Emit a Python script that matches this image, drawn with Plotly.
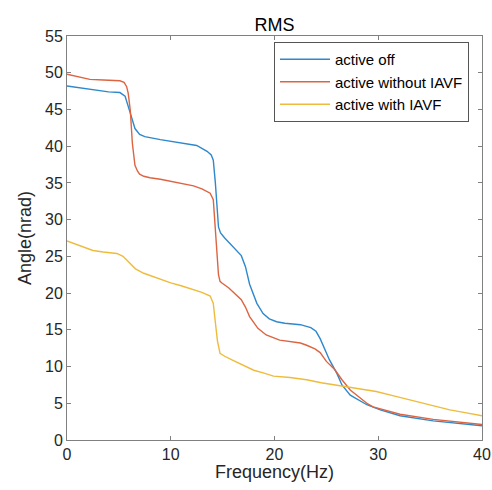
import plotly.graph_objects as go

# ---- data ----
freq_off = [0, 1, 2.5, 4, 5.1, 5.6, 6.1, 6.55, 7.0, 7.5, 9.0, 10, 11.5, 12.5, 13.5, 13.9,
            14.1, 14.3, 14.6, 14.8, 15.2, 15.6, 16.0, 16.8, 17.2, 17.6, 18.3, 18.9, 19.5,
            20.2, 21, 22.5, 23.5, 24.0, 24.4, 25.0, 25.3, 26.0, 26.5, 27.3, 28.9, 30.2,
            32.1, 35.3, 40]
rms_off = [48.2, 48.0, 47.6, 47.4, 47.3, 46.8, 44.5, 42.4, 41.6, 41.3, 40.9, 40.7, 40.4,
           40.1, 39.3, 38.8, 38.1, 35.0, 29.0, 28.2, 27.5, 26.9, 26.3, 25.1, 23.6, 21.2,
           18.6, 17.2, 16.5, 16.1, 15.9, 15.7, 15.3, 14.8, 13.8, 11.8, 10.9, 9.1, 7.5,
           6.1, 4.8, 4.1, 3.3, 2.6, 1.95]

freq_without = [0, 1, 2.2, 3.5, 5.1, 5.5, 5.75, 5.9, 6.1, 6.3, 6.55, 6.8, 7.0, 7.4, 8.0,
                9.0, 10, 11, 12.2, 13.0, 13.8, 14.1, 14.4, 14.6, 14.75, 14.9, 15.6, 16.0,
                16.8, 17.2, 17.6, 18.4, 19.2, 20.5, 21.5, 22.5, 23.1, 23.9, 24.4, 25.0,
                25.8, 26.5, 27.3, 28.9, 29.5, 32.1, 35.3, 40]
rms_without = [49.8, 49.5, 49.1, 49.0, 48.9, 48.7, 48.1, 47.2, 44.9, 40.4, 37.4, 36.6,
               36.2, 35.9, 35.7, 35.5, 35.2, 35.0, 34.6, 34.2, 33.6, 32.7, 25.9, 22.5,
               21.6, 21.4, 20.7, 20.2, 19.1, 18.1, 16.8, 15.2, 14.3, 13.6, 13.4, 13.2,
               12.9, 12.4, 11.9, 10.7, 9.6, 8.2, 6.8, 5.0, 4.5, 3.5, 2.8, 2.1]

freq_with = [0, 1, 2.5, 3.5, 4.8, 5.4, 6.0, 6.6, 7.4, 8.0, 9.0, 10, 11, 12.2, 13.0, 13.8,
             14.1, 14.3, 14.5, 14.75, 15.2, 15.9, 16.7, 17.3, 18.0, 19.0, 19.9, 21.5, 23.1,
             24.5, 26.3, 27.5, 29.8, 31.5, 33.7, 35.5, 36.9, 38.5, 40]
rms_with = [27.1, 26.6, 25.8, 25.6, 25.4, 25.0, 24.1, 23.3, 22.7, 22.4, 21.8, 21.4, 21.0,
            20.5, 20.1, 19.6, 18.6, 16.0, 13.5, 11.8, 11.4, 10.9, 10.4, 10.0, 9.5, 9.1,
            8.7, 8.5, 8.2, 7.8, 7.4, 7.2, 6.6, 6.0, 5.2, 4.6, 4.1, 3.7, 3.3]

series_names = ["active off", "active without IAVF", "active with IAVF"]
series_colors = ["#2F88CC", "#DD6440", "#EEBB3C"]

x_ticks = [0, 10, 20, 30, 40]
y_ticks = [0, 5, 10, 15, 20, 25, 30, 35, 40, 45, 50, 55]
x_label = "Frequency(Hz)"
y_label = "Angle(nrad)"

FONT = "Liberation Sans, Arial, Helvetica, sans-serif"
AXC = "#262626"

fig = go.Figure()
for fx, fy, name, col in zip([freq_off, freq_without, freq_with],
                             [rms_off, rms_without, rms_with],
                             series_names, series_colors):
    fig.add_trace(go.Scatter(x=fx, y=fy, mode="lines", name=name,
                             line=dict(color=col, width=1.4)))

axis_common = dict(
    showgrid=False, zeroline=False, showline=True, linecolor="#808080", linewidth=1,
    mirror="ticks", ticks="inside", ticklen=4, tickcolor="#808080", tickwidth=1,
    tickfont=dict(family=FONT, size=16, color=AXC), automargin=False,
)

fig.update_layout(
    width=492, height=490,
    margin=dict(l=67, r=10, t=36, b=50),
    paper_bgcolor="white", plot_bgcolor="white",
    title=dict(text="RMS", x=0.558, xanchor="center", y=1 - 25 / 490, yanchor="middle",
               font=dict(family=FONT, size=18, color="black")),
    xaxis=dict(range=[0, 40], tickvals=x_ticks, ticktext=[str(v) for v in x_ticks],
               **axis_common),
    yaxis=dict(range=[0, 55], tickvals=y_ticks, ticktext=[str(v) for v in y_ticks],
               **axis_common),
    legend=dict(x=0.9687, xanchor="right", y=(440 - 82) / 404, yanchor="middle",
                bgcolor="white", bordercolor="#555555", borderwidth=1,
                font=dict(family=FONT, size=15, color="black"),
                tracegroupgap=0, itemwidth=50),
    showlegend=True,
    annotations=[
        dict(text=x_label, xref="paper", yref="paper", x=0.5, y=(440 - 472) / 404,
             xanchor="center", yanchor="middle", showarrow=False,
             font=dict(family=FONT, size=18, color=AXC)),
        dict(text=y_label, xref="paper", yref="paper", x=(25 - 67) / 415, y=0.5,
             xanchor="center", yanchor="middle", showarrow=False, textangle=-90,
             font=dict(family=FONT, size=18, color=AXC)),
    ],
)

fig.write_html("out.html")
